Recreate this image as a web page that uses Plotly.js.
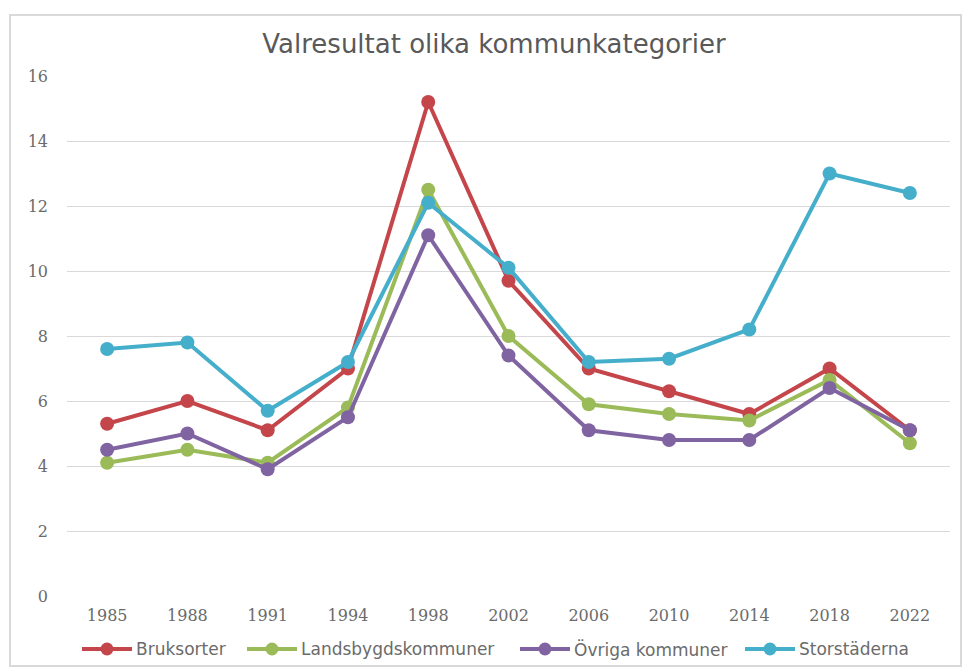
<!DOCTYPE html>
<html>
<head>
<meta charset="utf-8">
<script src="https://cdn.plot.ly/plotly-3.0.1.min.js"></script>
<style>
  html, body { margin: 0; padding: 0; background: #ffffff; }
  #chart { width: 963px; height: 668px; }
</style>
</head>
<body>
<div id="chart"></div>
<script>
const years = ["1985", "1988", "1991", "1994", "1998", "2002", "2006", "2010", "2014", "2018", "2022"];
const bruksorter = [5.3, 6.0, 5.1, 7.0, 15.2, 9.7, 7.0, 6.3, 5.6, 7.0, 5.1];
const landsbygd = [4.1, 4.5, 4.1, 5.8, 12.5, 8.0, 5.9, 5.6, 5.4, 6.65, 4.7];
const ovriga = [4.5, 5.0, 3.9, 5.5, 11.1, 7.4, 5.1, 4.8, 4.8, 6.4, 5.1];
const storstader = [7.6, 7.8, 5.7, 7.2, 12.1, 10.1, 7.2, 7.3, 8.2, 13.0, 12.4];
const seriesNames = ["Bruksorter", "Landsbygdskommuner", "Övriga kommuner", "Storstäderna"];
const seriesColors = ["#C4464B", "#9BBB59", "#8064A2", "#45AECB"];
const yTicks = [0, 2, 4, 6, 8, 10, 12, 14, 16];

const W = 963, H = 668;
const M = { l: 67, r: 13, t: 76, b: 72 };
const pw = W - M.l - M.r, ph = H - M.t - M.b;
const px2x = p => (p - M.l) / pw;
const py2y = p => (H - M.b - p) / ph;

const seriesData = [bruksorter, landsbygd, ovriga, storstader];
const traces = seriesData.map((vals, i) => ({
  type: "scatter",
  mode: "lines+markers",
  x: years,
  y: vals,
  name: seriesNames[i],
  line: { color: seriesColors[i], width: 4 },
  marker: { color: seriesColors[i], size: 14, symbol: "circle" },
  showlegend: false,
  hoverinfo: "x+y+name"
}));

// custom legend (longer line symbols, like the reference)
const legendStarts = [82, 247, 520, 745];
const legendY = 649;
const lineLen = 50;
const shapes = [{
  type: "rect", xref: "paper", yref: "paper",
  x0: px2x(10), x1: px2x(961), y0: py2y(666), y1: py2y(15),
  line: { color: "#d9d9d9", width: 2 },
  fillcolor: "rgba(0,0,0,0)", layer: "below"
}];
const annotations = [];
seriesNames.forEach((name, i) => {
  const x0 = legendStarts[i];
  shapes.push({
    type: "line", xref: "paper", yref: "paper",
    x0: px2x(x0), x1: px2x(x0 + lineLen), y0: py2y(legendY), y1: py2y(legendY),
    line: { color: seriesColors[i], width: 4 }
  });
  const cx = x0 + lineLen / 2, r = 6.5;
  shapes.push({
    type: "circle", xref: "paper", yref: "paper",
    x0: px2x(cx - r), x1: px2x(cx + r), y0: py2y(legendY + r), y1: py2y(legendY - r),
    line: { color: seriesColors[i], width: 0 },
    fillcolor: seriesColors[i]
  });
  annotations.push({
    xref: "paper", yref: "paper",
    x: px2x(x0 + lineLen + 2), y: py2y(legendY),
    xanchor: "left", yanchor: "middle",
    text: name, showarrow: false,
    font: { family: "'DejaVu Sans', sans-serif", size: 17, color: "#6b6b6b" }
  });
});

const tickFont = { family: "'DejaVu Serif', serif", size: 16, color: "#6b6b6b" };

const layout = {
  width: W,
  height: H,
  paper_bgcolor: "#ffffff",
  plot_bgcolor: "#ffffff",
  margin: M,
  title: {
    text: "Valresultat olika kommunkategorier",
    font: { family: "'DejaVu Sans', sans-serif", size: 26, color: "#595959" },
    x: px2x(494), xref: "paper", xanchor: "center",
    y: 0.935, yanchor: "middle"
  },
  xaxis: {
    type: "category",
    tickvals: years,
    ticktext: years,
    showgrid: false,
    showline: false,
    zeroline: false,
    ticks: "",
    ticklabelstandoff: 8,
    tickfont: tickFont,
    range: [-0.5, years.length - 0.5]
  },
  yaxis: {
    range: [0, 16],
    tickvals: yTicks,
    ticktext: yTicks.map(String),
    showgrid: true,
    gridcolor: "#d9d9d9",
    gridwidth: 1,
    zeroline: false,
    showline: false,
    ticks: "",
    ticklabelstandoff: 18,
    tickfont: tickFont
  },
  shapes: shapes,
  annotations: annotations,
  showlegend: false
};

Plotly.newPlot("chart", traces, layout, { displayModeBar: false });
</script>
</body>
</html>
